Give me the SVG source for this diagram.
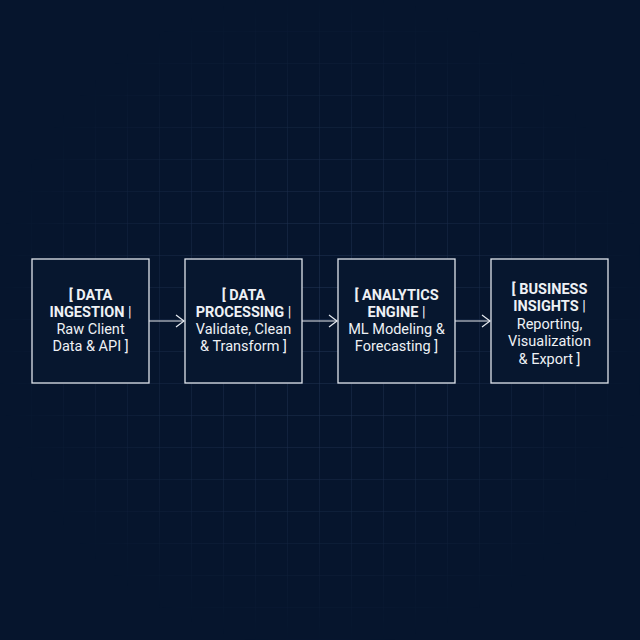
<svg xmlns="http://www.w3.org/2000/svg" width="640" height="640" viewBox="0 0 640 640">
<defs>
<pattern id="grid" width="32" height="32" patternUnits="userSpaceOnUse">
<path d="M32 0 V32 M0 32 H32" fill="none" stroke="#2c4062" stroke-width="1"/>
</pattern>
<radialGradient id="fade" cx="320" cy="320" r="330" gradientUnits="userSpaceOnUse">
<stop offset="0" stop-color="#fff" stop-opacity="0.85"/>
<stop offset="0.6" stop-color="#fff" stop-opacity="0.45"/>
<stop offset="1" stop-color="#fff" stop-opacity="0"/>
</radialGradient>
<mask id="m"><rect width="640" height="640" fill="url(#fade)"/></mask>
<marker id="arr" markerWidth="12" markerHeight="14" refX="10" refY="7" orient="auto" markerUnits="userSpaceOnUse">
<path d="M2 1 L10 7 L2 13" fill="none" stroke="#e6eaf0" stroke-width="1.2"/>
</marker>
<style>
.box{fill:#07172f;stroke:#dfe4ec;stroke-width:1.3}
.t{font-family:Roboto,"Liberation Sans",sans-serif;font-size:14.5px;fill:#eef1f5;text-anchor:middle}
.b{font-weight:700}
.c{stroke:#e6eaf0;stroke-width:1.2;fill:none}
</style>
</defs>
<rect width="640" height="640" fill="#06152d"/>
<rect width="640" height="640" fill="url(#grid)" mask="url(#m)"/>
<g id="connectors">
<line class="c" x1="149" y1="321" x2="184" y2="321" marker-end="url(#arr)"/>
<line class="c" x1="302" y1="321" x2="337" y2="321" marker-end="url(#arr)"/>
<line class="c" x1="455" y1="321" x2="490" y2="321" marker-end="url(#arr)"/>
</g>
<g id="n1">
<rect class="box" x="32" y="259" width="117" height="124"/>
<text class="t" x="90.5" y="300"><tspan class="b">[ DATA</tspan><tspan x="90.5" dy="17"><tspan class="b">INGESTION</tspan> |</tspan><tspan x="90.5" dy="17">Raw Client</tspan><tspan x="90.5" dy="17">Data &amp; API ]</tspan></text>
</g>
<g id="n2">
<rect class="box" x="185" y="259" width="117" height="124"/>
<text class="t" x="243.5" y="300"><tspan class="b">[ DATA</tspan><tspan x="243.5" dy="17"><tspan class="b">PROCESSING</tspan> |</tspan><tspan x="243.5" dy="17">Validate, Clean</tspan><tspan x="243.5" dy="17">&amp; Transform ]</tspan></text>
</g>
<g id="n3">
<rect class="box" x="338" y="259" width="117" height="124"/>
<text class="t" x="396.5" y="300"><tspan class="b">[ ANALYTICS</tspan><tspan x="396.5" dy="17"><tspan class="b">ENGINE</tspan> |</tspan><tspan x="396.5" dy="17">ML Modeling &amp;</tspan><tspan x="396.5" dy="17">Forecasting ]</tspan></text>
</g>
<g id="n4">
<rect class="box" x="491" y="259" width="117" height="124"/>
<text class="t" x="549.5" y="294"><tspan class="b">[ BUSINESS</tspan><tspan x="549.5" dy="17"><tspan class="b">INSIGHTS</tspan> |</tspan><tspan x="549.5" dy="17.5">Reporting,</tspan><tspan x="549.5" dy="17.5">Visualization</tspan><tspan x="549.5" dy="17.5">&amp; Export ]</tspan></text>
</g>
</svg>
